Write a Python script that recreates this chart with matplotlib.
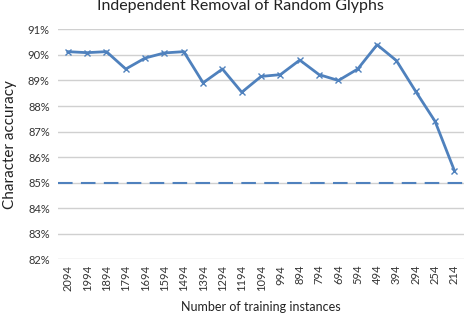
import numpy as np
import matplotlib.pyplot as plt
from matplotlib.ticker import FuncFormatter

# training set sizes (categories) and character accuracy in %
instances = ["2094", "1994", "1894", "1794", "1694", "1594", "1494", "1394",
             "1294", "1194", "1094", "994", "894", "794", "694", "594",
             "494", "394", "294", "254", "214"]
accuracy = [90.13, 90.09, 90.13, 89.45, 89.88, 90.08, 90.13, 88.91,
            89.45, 88.54, 89.16, 89.23, 89.80, 89.23, 89.00, 89.45,
            90.40, 89.78, 88.57, 87.40, 85.47]
baseline = 85.0
y_ticks = [82, 83, 84, 85, 86, 87, 88, 89, 90, 91]

plt.rcParams["font.family"] = ["Lato", "DejaVu Sans"]

fig = plt.figure(figsize=(4.65, 3.2), dpi=100)
ax = fig.add_axes([0.125, 0.19, 0.873, 0.718])

x = np.arange(len(instances))
blue = "#4F81BD"
ax.plot(x, accuracy, color=blue, linewidth=2.0, marker="x",
        markersize=5, markeredgewidth=1.0, zorder=3)
ax.axhline(baseline, color=blue, linewidth=1.5, linestyle=(0, (7, 4)), zorder=3)

ax.set_xlim(-0.5, len(instances) - 0.5)
ax.set_ylim(82, 91)
ax.set_yticks(y_ticks)
ax.yaxis.set_major_formatter(FuncFormatter(lambda v, p: "%d%%" % v))
ax.set_xticks(x)
ax.set_xticklabels(instances, rotation=90)

ax.grid(axis="y", color="#D0D0D0", linewidth=1.0)
ax.set_axisbelow(True)
for s in ax.spines.values():
    s.set_visible(False)
ax.tick_params(length=0, labelsize=8, colors="#333333", pad=6)
ax.tick_params(axis="x", labelsize=8, pad=4)

fig.text(0.518, 0.968, "Independent Removal of Random Glyphs", fontsize=11.5,
         color="#222222", ha="center", va="baseline")
ax.set_ylabel("Character accuracy", fontsize=11, color="#222222", labelpad=8)
ax.set_xlabel("Number of training instances", fontsize=9, color="#222222",
              labelpad=7)

plt.savefig("out.png", dpi=100)
plt.close()
